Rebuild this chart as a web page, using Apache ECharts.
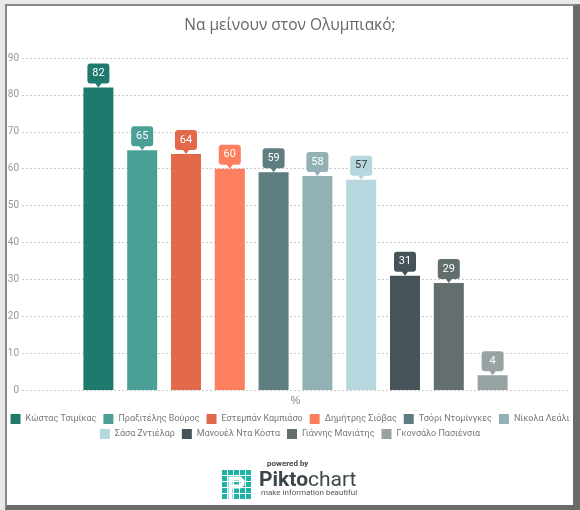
<!DOCTYPE html>
<html>
<head>
<meta charset="utf-8">
<script src="https://cdn.jsdelivr.net/npm/echarts@6/dist/echarts.min.js"></script>
<style>
  html, body { margin: 0; padding: 0; background: #e9e9e9; }
  #frame {
    position: absolute; left: 5px; top: 4px; width: 566px; height: 499px;
    background: #fff; border-left: 2px solid #8a8a8a; border-top: 2px solid #8a8a8a;
    border-right: 7px solid #6b6b6b; border-bottom: 5px solid #6b6b6b;
  }
  #main { position: absolute; left: 0; top: 0; width: 580px; height: 510px; }
</style>
</head>
<body>
<div id="frame"></div>
<div id="main"></div>
<script>
var names = ['Κώστας Τσιμίκας', 'Πραξιτέλης Βούρος', 'Εστεμπάν Καμπιάσο', 'Δημήτρης Σιόβας', 'Τσόρι Ντομίνγκες',
  'Νίκολα Λεάλι', 'Σάσα Ζντιέλαρ', 'Μανουέλ Ντα Κόστα', 'Γιάννης Μανιάτης', 'Γκονσάλο Πασιένσια'];
var values = [82, 65, 64, 60, 59, 58, 57, 31, 29, 4];
var categories = ['%'];

var colors = ['#1f7a6e', '#4aa096', '#e4694b', '#fd7f5f', '#5e7d80',
  '#92b1b5', '#b6d7dd', '#465459', '#636e6f', '#97a2a3'];
var badgeText = ['#fff', '#fff', '#fff', '#fff', '#fff', '#fff', '#333', '#fff', '#fff', '#fff'];

// badge with a little pointer underneath
var badge = 'path://M3,0 H19 Q22,0 22,3 V17 Q22,20 19,20 H14 L11,24 L8,20 H3 Q0,20 0,17 V3 Q0,0 3,0 Z';

var myChart = echarts.init(document.getElementById('main'));

var series = names.map(function (n, i) {
  return {
    name: n,
    type: 'bar',
    data: [values[i]],
    barWidth: 30,
    barGap: '46%',
    itemStyle: { color: colors[i] },
    markPoint: {
      symbol: badge,
      symbolSize: [22, 24],
      symbolOffset: [0, '-50%'],
      itemStyle: { color: colors[i] },
      label: { color: badgeText[i], fontSize: 11, fontFamily: 'Roboto', offset: [0, -2] },
      data: [{ type: 'max' }]
    }
  };
});

// Piktochart footer
var tiles = [];
for (var r = 0; r < 5; r++) {
  for (var c = 0; c < 5; c++) {
    tiles.push({ type: 'rect', shape: { x: c * 6, y: r * 6, width: 5, height: 5 }, style: { fill: '#1fb3a5' } });
  }
}
tiles.push({
  type: 'polyline',
  shape: { points: [[8.5, 29], [8.5, 8.5], [18, 8.5], [20.5, 11], [20.5, 14], [18, 16.5], [8.5, 16.5]] },
  style: { fill: null, stroke: '#fff', lineWidth: 4 }
});

var legendBase = {
  left: 'center',
  width: 572,
  icon: 'rect',
  itemWidth: 10,
  itemHeight: 10,
  itemGap: 7,
  textStyle: { color: '#777', fontSize: 9, fontFamily: 'Roboto' }
};

var option = {
  animation: false,
  title: {
    text: 'Να μείνουν στον Ολυμπιακό;',
    left: 'center',
    top: 13,
    textStyle: { color: '#666', fontSize: 15.5, fontWeight: 'normal', fontFamily: 'Open Sans' }
  },
  legend: [
    Object.assign({}, legendBase, { data: names.slice(0, 6), top: 409 }),
    Object.assign({}, legendBase, { data: names.slice(6), top: 424 })
  ],
  grid: { left: 22, right: 11, top: 58, bottom: 120 },
  xAxis: {
    type: 'category',
    data: categories,
    axisLine: { show: false },
    axisTick: { show: false },
    axisLabel: { color: '#888', fontSize: 11, margin: 5 }
  },
  yAxis: {
    type: 'value',
    min: 0,
    max: 90,
    interval: 10,
    axisLabel: { color: '#999', fontSize: 10, margin: 3, fontFamily: 'Roboto' },
    splitLine: { lineStyle: { color: '#c8c8c8', type: [2, 2] } }
  },
  graphic: [
    { type: 'text', x: 267, y: 460, style: { text: 'powered by', fill: '#444', font: 'bold 8px Roboto' } },
    { type: 'group', x: 222, y: 470, children: tiles },
    {
      type: 'text', x: 259, y: 470,
      style: {
        text: '{b|Pikto}{n|chart}',
        rich: {
          b: { fontSize: 21, fontWeight: 'bold', fill: '#3b4849', fontFamily: 'Roboto' },
          n: { fontSize: 21, fontWeight: 'normal', fill: '#3b4849', fontFamily: 'Roboto' }
        }
      }
    },
    { type: 'text', x: 261, y: 489, style: { text: 'make information beautiful', fill: '#555', font: '8px Roboto' } }
  ],
  series: series
};
myChart.setOption(option);
</script>
</body>
</html>
